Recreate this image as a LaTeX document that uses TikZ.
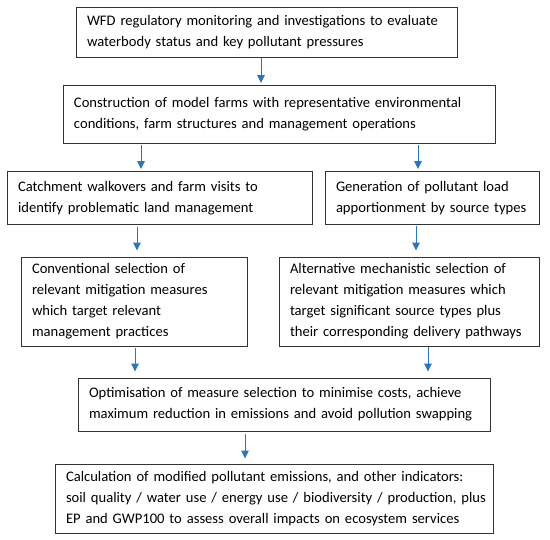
\documentclass[tikz,border=0pt]{standalone}
\usepackage{fontspec}
\setmainfont{Carlito}
\usetikzlibrary{calc,arrows.meta}
\definecolor{arrblue}{RGB}{46,117,182}
\tikzset{
  box/.style={draw=black!80, line width=0.9pt, inner xsep=11pt, inner ysep=0pt,
    align=left, font=\fontsize{14.6}{21}\selectfont},
  arr/.style={draw=arrblue, line width=1pt, -{Triangle[length=8pt,width=7.5pt]}}
}
\newcommand{\bx}[7]{% name, cx, cy, w, h, text width, text
  \node[box, minimum width=#4pt, minimum height=#5pt, text width=#6pt] (#1) at (#2pt,-#3pt) {#7};}
\newcommand{\tl}[1]{\mbox{#1}}
\begin{document}
\begin{tikzpicture}
\useasboundingbox[fill=white] (0,0) rectangle (550pt,-540pt);
\bx{b1}{266.5}{32}{381}{50}{359}{\tl{WFD regulatory monitoring and investigations to evaluate}\\\tl{waterbody status and key pollutant pressures}}
\bx{b2}{279}{114}{432}{58}{410}{\tl{Construction of model farms with representative environmental}\\\tl{conditions, farm structures and management operations}}
\bx{b3}{159.5}{198}{305}{53}{283}{\tl{Catchment walkovers and farm visits to}\\\tl{identify problematic land management}}
\bx{b4}{432}{198}{214}{53}{192}{\tl{Generation of pollutant load}\\\tl{apportionment by source types}}
\bx{b5}{134}{301.5}{226}{89}{204}{\tl{Conventional selection of}\\\tl{relevant mitigation measures}\\\tl{which target relevant}\\\tl{management practices}}
\bx{b6}{409}{301.5}{260}{89}{238}{\tl{Alternative mechanistic selection of}\\\tl{relevant mitigation measures which}\\\tl{target significant source types plus}\\\tl{their corresponding delivery pathways}}
\bx{b7}{284}{404.5}{412}{53}{390}{\tl{Optimisation of measure selection to minimise costs, achieve}\\\tl{maximum reduction in emissions and avoid pollution swapping}}
\bx{b8}{274}{498.5}{438}{69}{416}{\tl{Calculation of modified pollutant emissions, and other indicators:}\\\tl{soil quality / water use / energy use / biodiversity / production, plus}\\\tl{EP and GWP100 to assess overall impacts on ecosystem services}}
\coordinate (x1) at (261pt,0);
\coordinate (x2) at (141pt,0);
\coordinate (x3) at (418pt,0);
\coordinate (x4) at (137pt,0);
\coordinate (x5) at (416pt,0);
\coordinate (x6) at (135pt,0);
\coordinate (x7) at (428pt,0);
\coordinate (x8) at (245pt,0);
\draw[arr] ($(b1.south -| x1)+(0,-1pt)$) -- ($(b2.north -| x1)+(0,1.5pt)$);
\draw[arr] ($(b2.south -| x2)+(0,-2pt)$) -- ($(b3.north -| x2)+(0,2pt)$);
\draw[arr] ($(b2.south -| x3)+(0,-2pt)$) -- ($(b4.north -| x3)+(0,2pt)$);
\draw[arr] ($(b3.south -| x4)+(0,-2pt)$) -- ($(b5.north -| x4)+(0,6pt)$);
\draw[arr] ($(b4.south -| x5)+(0,-1pt)$) -- ($(b6.north -| x5)+(0,6pt)$);
\draw[arr] ($(b5.south -| x6)+(0,-2pt)$) -- ($(b7.north -| x6)+(0,6pt)$);
\draw[arr] ($(b6.south -| x7)+(0,-1pt)$) -- ($(b7.north -| x7)+(0,6pt)$);
\draw[arr] ($(b7.south -| x8)+(0,-3pt)$) -- ($(b8.north -| x8)+(0,5pt)$);
\end{tikzpicture}
\end{document}
